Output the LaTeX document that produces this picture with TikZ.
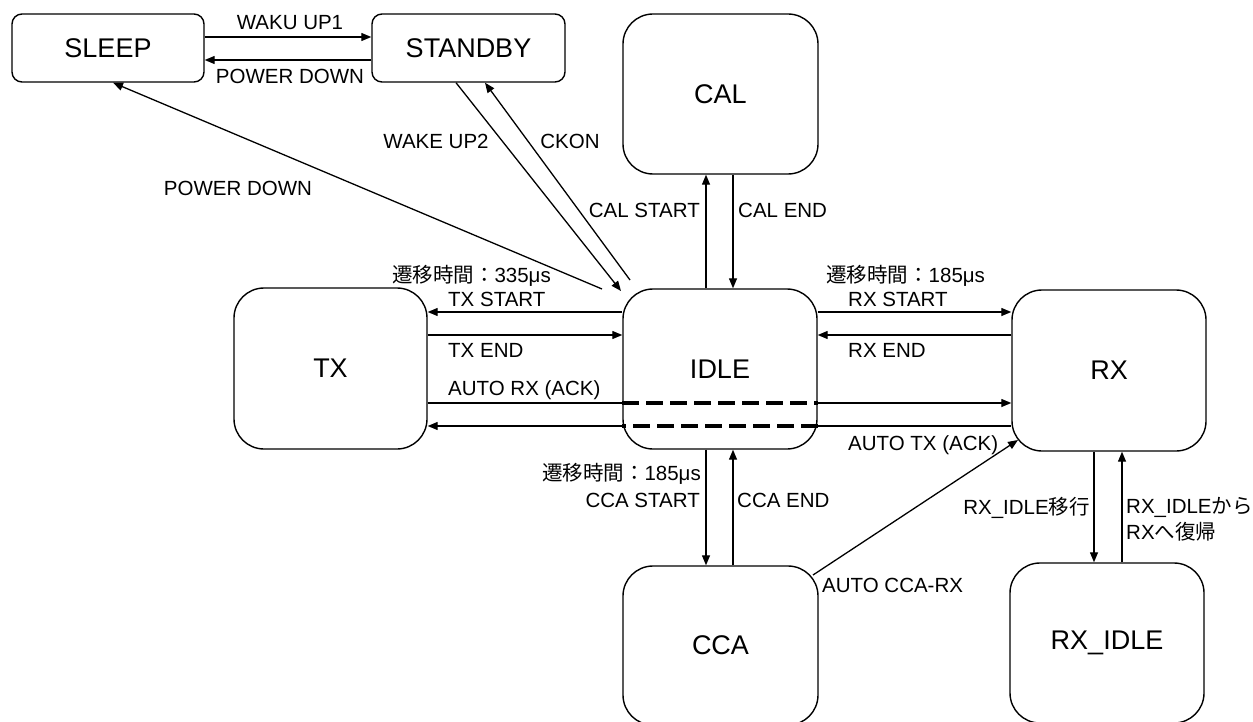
\documentclass[tikz,border=0pt]{standalone}
\usepackage{fontspec}
\setmainfont{Liberation Sans}
\newfontfamily\jp{Noto Sans CJK JP}
\usetikzlibrary{arrows.meta}
\begin{document}
\begin{tikzpicture}[x=1pt,y=-1pt,
  state/.style={draw,line width=1.4pt,rounded corners=30pt,inner sep=0pt,
    font=\fontsize{27}{30}\selectfont},
  smallstate/.style={state,rounded corners=10pt},
  lbl/.style={inner sep=0pt,font=\fontsize{20.5}{24}\selectfont,text height=14.7pt,text depth=0pt},
  lbltwo/.style={inner sep=0pt,font=\fontsize{20.5}{26}\selectfont,align=left},
  link/.style={line width=1.3pt},
  arr/.style={link,-{Triangle[length=10pt,width=8pt]}},
  idledash/.style={line width=4pt,dash pattern=on 17pt off 7pt}]
\useasboundingbox (0,0) rectangle (1253,722);
\begin{scope}
\clip (0,0) rectangle (1253,722);
% states
\node[smallstate,minimum width=192pt,minimum height=68pt] (sleep) at (108,48) {SLEEP};
\node[smallstate,minimum width=193pt,minimum height=68pt] (standby) at (468.5,48) {STANDBY};
\node[state,minimum width=195pt,minimum height=160pt] (cal) at (720.5,94) {CAL};
\node[state,minimum width=194pt,minimum height=160pt] (idle) at (720,369) {IDLE};
\node[state,minimum width=193pt,minimum height=161pt] (tx) at (330.5,368.5) {TX};
\node[state,minimum width=194pt,minimum height=161pt] (rx) at (1109,370.5) {RX};
\node[state,minimum width=195pt,minimum height=159pt] (cca) at (720.5,645.5) {CCA};
\node[state,minimum width=194pt,minimum height=160pt] (rxidle) at (1107,643) {RX\_IDLE};
\end{scope}

% named free ends
\coordinate (pdstart) at (602,289);
\coordinate (wutwoend) at (621,291);
\coordinate (ckonstart) at (630,280);
\coordinate (ccarxstart) at (813,575);
\coordinate (ccarxend) at (1018,440);

% SLEEP <-> STANDBY
\draw[arr] (sleep.east |- 0,37) -- (standby.west |- 0,37);
\draw[arr] (standby.west |- 0,60) -- (sleep.east |- 0,60);
% diagonals
\draw[arr] (pdstart) -- (sleep.south -| 113,0);
\draw[arr] (standby.south -| 456,0) -- (wutwoend);
\draw[arr] (ckonstart) -- (standby.south -| 485,0);
% CAL
\draw[arr] (idle.north -| 706,0) -- (cal.south -| 706,0);
\draw[arr] (cal.south -| 733,0) -- (idle.north -| 733,0);
% TX
\draw[arr] (idle.west |- 0,312) -- (tx.east |- 0,312);
\draw[arr] (tx.east |- 0,335) -- (idle.west |- 0,335);
\draw[link] (tx.east |- 0,403) -- (idle.west |- 0,403);
\draw[idledash] (idle.west |- 0,403) -- (idle.east |- 0,403);
\draw[arr] (idle.east |- 0,403) -- (rx.west |- 0,403);
\draw[link] (rx.west |- 0,426) -- (idle.east |- 0,426);
\draw[idledash] (idle.east |- 0,426) -- (idle.west |- 0,426);
\draw[arr] (idle.west |- 0,426) -- (tx.east |- 0,426);
% RX
\draw[arr] (idle.east |- 0,312) -- (rx.west |- 0,312);
\draw[arr] (rx.west |- 0,335) -- (idle.east |- 0,335);
% CCA
\draw[arr] (idle.south -| 706,0) -- (cca.north -| 706,0);
\draw[arr] (cca.north -| 733,0) -- (idle.south -| 733,0);
\draw[arr] (ccarxstart) -- (ccarxend);
% RX_IDLE
\draw[arr] (rx.south -| 1094,0) -- (rxidle.north -| 1094,0);
\draw[arr] (rxidle.north -| 1122,0) -- (rx.south -| 1122,0);

% labels
\node[lbl] (lwaku) at (290,22) {WAKU UP1};
\node[lbl] (lpd1) at (290,76) {POWER DOWN};
\node[lbl] (lwake2) at (436,141) {WAKE UP2};
\node[lbl] (lckon) at (570,141) {CKON};
\node[lbl] (lpd2) at (238,188) {POWER DOWN};
\node[lbl,anchor=east] (lcals) at (700,210) {CAL START};
\node[lbl,anchor=west] (lcale) at (738,210) {CAL END};
\node[lbl,anchor=east] (lttx) at (551,275) {{\jp 遷移時間：}335μs};
\node[lbl,anchor=west] (ltxs) at (448,299) {TX START};
\node[lbl,anchor=west] (ltxe) at (448,350) {TX END};
\node[lbl,anchor=west] (lautorx) at (448,388) {AUTO RX (ACK)};
\node[lbl,anchor=west] (ltrx) at (826,275) {{\jp 遷移時間：}185μs};
\node[lbl,anchor=west] (lrxs) at (848,299) {RX START};
\node[lbl,anchor=west] (lrxe) at (848,350) {RX END};
\node[lbl,anchor=west] (lautotx) at (848,443) {AUTO TX (ACK)};
\node[lbl,anchor=east] (ltcca) at (701,473) {{\jp 遷移時間：}185μs};
\node[lbl,anchor=east] (lccas) at (700,500) {CCA START};
\node[lbl,anchor=west] (lccae) at (737,500) {CCA END};
\node[lbl,anchor=west] (lccarx) at (822,585) {AUTO CCA-RX};
\node[lbl,anchor=east] (lrxidle) at (1090,507) {RX\_IDLE{\jp 移行}};
\node[lbltwo,anchor=north west] (lrxback) at (1126,497) {RX\_IDLE{\jp から}\\RX{\jp へ復帰}};
\end{tikzpicture}
\end{document}
